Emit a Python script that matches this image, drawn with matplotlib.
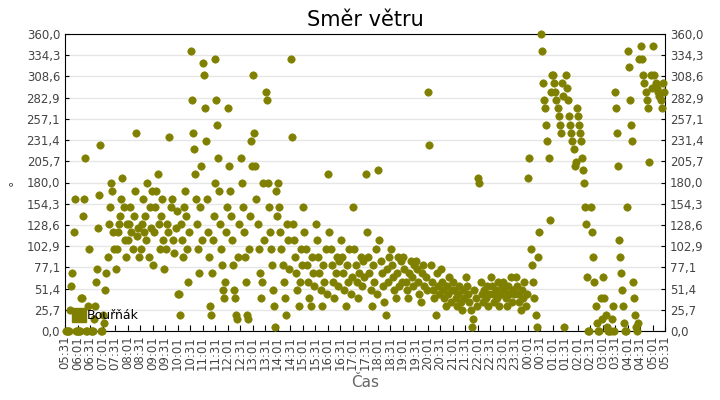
import matplotlib
matplotlib.use("Agg")
import matplotlib.pyplot as plt
from matplotlib.lines import Line2D

tick_labels = ["05:31","06:01","06:31","07:01","07:31","08:01","08:31","09:01","09:31","10:01",
 "10:31","11:01","11:31","12:01","12:31","13:01","13:31","14:01","14:31","15:01","15:31",
 "16:01","16:31","17:01","17:31","18:01","18:31","19:01","19:31","20:01","20:31","21:01",
 "21:31","22:01","22:31","23:01","23:31","00:01","00:31","01:01","01:31","02:01","02:31",
 "03:01","03:31","04:01","04:31","05:01","05:31"]
y_ticks = [0.0,25.7,51.4,77.1,102.9,128.6,154.3,180.0,205.7,231.4,257.1,282.9,308.6,334.3,360.0]

# wind direction values per half-hour slot (slot 0 = 05:31-06:01)
dirs_by_slot = [
 [0,0,0,0,25,55,70,120,160,0,0],
 [0,0,0,40,40,140,160,210,0,0,30,100],
 [0,0,0,15,30,60,75,125,165,225,0,0],
 [20,10,50,70,90,130,150,180,170,120,100],
 [75,100,120,130,140,160,185,150,110,90,130],
 [110,130,150,120,100,140,170,240,115,125,90],
 [100,130,160,120,140,110,180,90,150,125,170],
 [80,120,150,170,190,130,100,140,160,110,75],
 [100,130,120,235,150,160,110,95,125,145],
 [45,45,20,130,110,90,150,170,140,100,60,120],
 [340,280,240,220,190,160,130,100,70,150,200,110],
 [325,310,270,230,160,120,90,30,20,70,110,140,180],
 [330,280,250,210,170,130,100,80,50,40,60,120,150],
 [270,200,170,140,110,80,50,40,20,15,90,130],
 [210,180,150,120,90,60,20,15,100,140,230,200],
 [310,240,200,160,130,100,70,40,60,180,110],
 [290,280,180,150,120,100,80,50,30,5,170,140],
 [180,150,120,100,80,60,40,20,130,110,75],
 [330,235,130,110,90,70,50,30,60,100,80],
 [150,120,100,80,60,40,30,90,70,55],
 [130,110,90,70,50,30,80,60,100,45],
 [190,120,100,80,60,40,70,90,55,85],
 [110,90,70,50,30,80,60,100,45,65],
 [150,100,80,60,40,70,90,55,85,65],
 [190,120,90,70,50,30,80,60,100,45],
 [195,110,85,70,55,35,20,75,60,90],
 [100,80,65,50,40,70,90,55,85,60],
 [90,75,60,50,40,70,85,65,55,80],
 [85,75,60,45,35,70,80,55,65,50],
 [290,225,80,60,50,40,20,70,55,45],
 [75,60,50,40,30,55,45,65,35,50],
 [60,50,40,30,45,55,35,25,50,40],
 [65,55,45,35,25,5,15,50,40,30],
 [185,180,60,45,35,50,40,55,30,45],
 [65,55,45,35,50,40,60,30,45,55],
 [60,50,40,30,55,45,65,35,50,45],
 [65,55,45,35,25,50,40,60,30,45],
 [185,210,100,80,60,40,20,5,90,120],
 [360,340,300,280,270,250,230,210,135,290,310],
 [310,300,290,280,270,260,250,240,300,285,5],
 [310,295,280,260,250,240,230,220,200,205,270],
 [260,250,240,230,210,195,180,150,130,65,0,0],
 [150,120,90,60,30,10,0,0,40,15],
 [65,40,20,5,0,0,0,15,30,0],
 [290,270,240,200,110,90,70,50,30,10,0,0,150],
 [340,320,280,250,230,60,40,20,5,0,10,330],
 [345,330,310,300,290,280,270,205,310,295],
 [345,310,300,295,290,285,280,270,300,290],
]

xs, ys = [], []
for i, vals in enumerate(dirs_by_slot):
    n = len(vals)
    for j, v in enumerate(vals):
        xs.append(i + (j + 0.5) / n)
        ys.append(v)

olive = "#808000"
fig = plt.figure(figsize=(7.2, 4.0), dpi=100)
ax = fig.add_axes([65/720, 1-331/400, 600/720, 297/400])
ax.scatter(xs, ys, s=28, color=olive, edgecolors=olive, linewidths=0.5, zorder=3,
           clip_on=False, marker="o")
ax.set_xlim(0, 48)
ax.set_ylim(0, 360)
ax.set_yticks(y_ticks)
ax.set_yticklabels([f"{v:.1f}".replace(".", ",") for v in y_ticks])
ax.set_xticks(range(49))
ax.set_xticklabels(tick_labels, rotation=90, fontsize=8.5, color="#444444")
ax.tick_params(axis="y", labelsize=8.5, labelcolor="#444444", right=True, labelright=True, direction="in", length=3)
ax.tick_params(axis="x", direction="in", length=4)
ax.grid(axis="y", color="#e6e6e6", linewidth=1)
ax.set_axisbelow(True)
for s in ax.spines.values():
    s.set_color("black")
ax.set_ylabel("°", color="#444444", fontsize=9)
ax.set_xlabel("Čas", color="#666666", fontsize=11)
ax.set_title("Směr větru", fontsize=15)
handle = Line2D([], [], linestyle="none", marker="s", markersize=10, color=olive)
ax.legend([handle], ["Bouřňák"], loc="lower left", frameon=False, fontsize=9,
          handletextpad=0.2, borderaxespad=0.3, handlelength=0.8)
fig.savefig("out.png", dpi=100)
